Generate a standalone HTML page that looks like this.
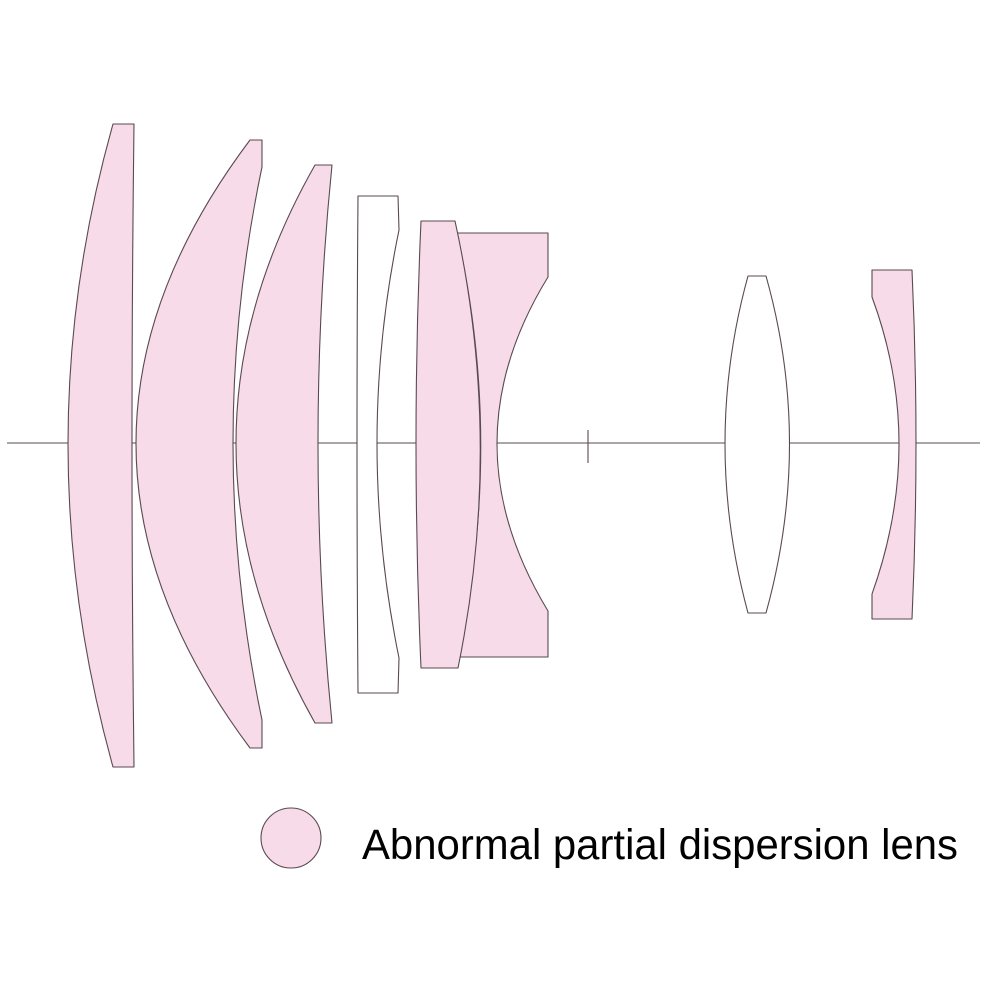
<!DOCTYPE html>
<html><head><style>html,body{margin:0;padding:0;background:#fff}svg{display:block}</style></head>
<body>
<svg width="1000" height="1000" viewBox="0 0 1000 1000" xmlns="http://www.w3.org/2000/svg">
<g stroke="#5a4a50" stroke-width="1.1" stroke-linejoin="round">
<line x1="7" y1="443" x2="980" y2="443"/>
<line x1="588" y1="430" x2="588" y2="463"/>
<g fill="#f7dbe9">
<path d="M113,124 L134,124 Q130,443 134,767 L113,767 Q23,443 113,124 Z"/>
<path d="M250,140 L262,140 L262,167 Q204,443 262,720 L262,748 L250,748 Q22,443 250,140 Z"/>
<path d="M315,165 L332,165 Q304,443 332,723 L315,723 Q157,443 315,165 Z"/>
<path d="M457,233 L548,233 L548,277 Q446,443 548,611 L548,657 L458,657 Q504,443 457,233 Z"/>
<path d="M421,221 L455,221 Q504,443 458,668 L421,668 Q411,443 421,221 Z"/>
<path d="M872,270 L912,270 Q920,443 912,619 L872,619 L872,594 Q926,443 872,297 Z"/>
<circle cx="291" cy="838" r="30"/>
</g>
<g fill="#fff">
<path d="M358,196 L398,196 L399,230 Q355,443 399,658 L398,693 L358,693 Q356,443 358,196 Z"/>
<path d="M748,276 L766,276 Q813,443 766,613 L748,613 Q702,443 748,276 Z"/>
</g>
</g>
<text x="362" y="859" font-family="Liberation Sans, sans-serif" font-size="43" fill="#000" textLength="596" lengthAdjust="spacingAndGlyphs">Abnormal partial dispersion lens</text>
</svg>
</body></html>
